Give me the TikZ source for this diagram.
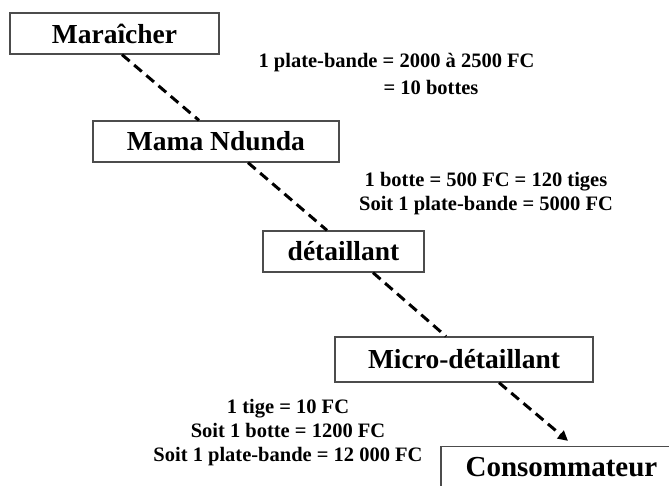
\documentclass[tikz,border=0pt]{standalone}
\usepackage{fontspec}
\setmainfont{Liberation Serif}
\usetikzlibrary{arrows.meta}
\begin{document}
\begin{tikzpicture}[x=1pt,y=-1pt,
  actor/.style={draw=black!70,line width=1.3pt,fill=white,inner sep=0pt,
    font=\fontsize{27.5}{32}\selectfont\bfseries,minimum height=41pt},
  note/.style={inner sep=0pt,align=center,font=\fontsize{20.5}{24}\selectfont\bfseries},
  flow/.style={line width=3pt,dash pattern=on 10pt off 6pt}]
\clip (0,0) rectangle (669,485);
\fill[white] (0,0) rectangle (669,485);
\node[actor,minimum width=209pt] (mar) at (114.5,33.5) {Maraîcher};
\node[actor,minimum width=246pt] (mama) at (216,141.5) {Mama Ndunda};
\node[actor,minimum width=161pt] (det) at (343.5,251.5) {détaillant};
\node[actor,minimum width=258pt,minimum height=45pt] (micro) at (464,359.5) {Micro-détaillant};
\node[actor,minimum width=241pt,font=\fontsize{29}{34}\selectfont\bfseries] (cons) at (561.5,467) {Consommateur};
\node[note] (t1a) at (396.5,63) {1 plate-bande = 2000 à 2500 FC};
\node[note] (t1b) at (431,87) {= 10 bottes};
\node[note] (t2) at (486,194) {1 botte = 500 FC = 120 tiges\\Soit 1 plate-bande = 5000 FC};
\node[note] (t3) at (288,433) {1 tige = 10 FC\\Soit 1 botte = 1200 FC\\Soit 1 plate-bande = 12 000 FC};
\draw[flow] ([xshift=7.5pt]mar.south) -- ([xshift=-17pt]mama.north);
\draw[flow] ([xshift=32pt]mama.south) -- ([xshift=-16.5pt]det.north);
\draw[flow] ([xshift=29.5pt]det.south) -- ([xshift=-18pt]micro.north);
\draw[flow,-{Triangle[length=10pt,width=10pt]}] ([xshift=35pt]micro.south) -- ([xshift=6.5pt,yshift=5pt]cons.north);
\end{tikzpicture}
\end{document}
